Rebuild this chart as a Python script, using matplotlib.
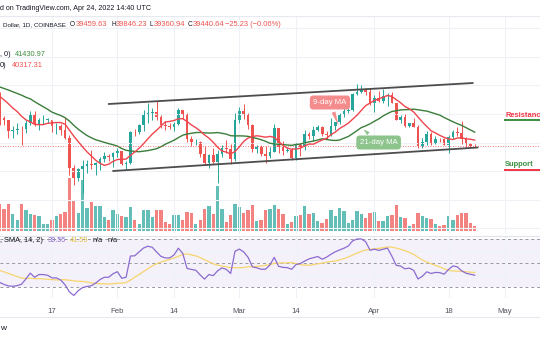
import numpy as np
import pandas as pd
import matplotlib
matplotlib.use('Agg')
import matplotlib.pyplot as plt
import matplotlib.dates as mdates
from matplotlib.lines import Line2D

plt.rcParams['font.family'] = ['Liberation Sans', 'DejaVu Sans']

# daily closes Dec 1 2021 .. Jan 4 2022 (warm-up for the moving averages)
prior_close = [57229, 56508, 53601, 49153, 49397, 50441, 50589, 50471, 47545, 47140,
               49390, 50053, 46702, 48343, 48864, 47632, 46131, 46834, 46681, 46914,
               48890, 48588, 50838, 50820, 50400, 50775, 50701, 47543, 46464, 47120,
               46214, 47738, 47311, 46446, 45833]
# RSI(14) Dec 23 2021 .. Jan 4 2022 (warm-up for the RSI average)
prior_rsi = [49, 49, 48, 49, 48.5, 42, 40, 41.5, 40, 44, 43, 41.5, 40.5]

first_day = '2022-01-05'

# BTC/USD daily candles, Jan 5 .. Apr 24 2022
opens = [45833, 43431, 43082, 41558, 41734, 41912, 41821, 42736, 43946, 42592,
         43099, 43177, 43190, 42250, 42375, 41744, 40680, 36457, 35030, 36276,
         36654, 36954, 36836, 37138, 37713, 38166, 37918, 38483, 38743, 36952,
         37154, 41500, 41441, 42412, 43841, 44118, 44338, 43565, 42407, 42244,
         42197, 42586, 44575, 43961, 40538, 40030, 40122, 38431, 37075, 38286,
         37296, 38332, 39214, 39105, 37709, 43193, 44354, 43925, 42458, 39137,
         39400, 38419, 38062, 38737, 41982, 39437, 38794, 38905, 37849, 39666,
         39339, 41143, 40951, 41801, 42191, 41247, 41077, 42358, 42892, 43960,
         44349, 44500, 46820, 47128, 47465, 47062, 45538, 46281, 45868, 46453,
         46622, 45555, 43206, 43503, 42287, 42782, 42207, 39521, 40127, 41166,
         39936, 40553, 40424, 39716, 40827, 41503, 41374, 40527, 39741, 39459.63]
highs = [47070, 43748, 43145, 42300, 42786, 42249, 43100, 44350, 44458, 43448,
         43800, 43478, 43190, 42680, 42575, 43505, 41100, 36836, 36499, 37550,
         37545, 38919, 37234, 38000, 38720, 38360, 38740, 39265, 38834, 37387,
         41550, 41914, 42655, 44500, 45500, 44800, 45821, 43920, 43000, 42760,
         42876, 44775, 44580, 44200, 40970, 40450, 40150, 39500, 38450, 39280,
         39000, 39700, 40300, 39850, 44200, 44950, 45400, 44100, 42530, 39700,
         39650, 39500, 39400, 42600, 42050, 40250, 39360, 39300, 39900, 39900,
         41700, 41480, 42350, 42400, 42300, 41550, 43370, 42900, 44200, 45100,
         44800, 46900, 48189, 48096, 47700, 47600, 46700, 47200, 47450, 46900,
         47100, 45555, 43900, 43950, 42800, 43400, 42420, 40700, 41550, 41500,
         40900, 40700, 40600, 41100, 41750, 42199, 42976, 40800, 39990, 39846.23]
lows = [42500, 42430, 40610, 40600, 41200, 39650, 41268, 42450, 42311, 41733,
        42578, 42690, 41540, 41250, 41100, 40550, 35440, 34008, 34600, 32933,
        35700, 36234, 35507, 36155, 37300, 37351, 36632, 38000, 36832, 36250,
        37055, 40850, 41150, 41650, 42666, 43150, 43200, 42000, 41760, 41880,
        41570, 42450, 43350, 40100, 39450, 39630, 38000, 36800, 36400, 37050,
        34322, 38000, 38600, 37000, 37450, 42800, 43350, 41850, 38650, 38600,
        38100, 37155, 37850, 38650, 38550, 38220, 38650, 37580, 37590, 38120,
        38900, 40500, 40200, 41550, 40950, 40500, 40900, 41800, 42600, 43600,
        44100, 44400, 46650, 46950, 46600, 45200, 44250, 45700, 45550, 45150,
        45500, 43150, 42750, 42150, 42130, 42150, 39200, 39260, 39600, 39600,
        39800, 40050, 39600, 38536, 40550, 40850, 39760, 39200, 39300, 39360.94]
closes = [43431, 43082, 41558, 41734, 41912, 41821, 42736, 43946, 42592, 43099,
          43177, 43190, 42250, 42375, 41744, 40680, 36457, 35030, 36276, 36654,
          36954, 36836, 37138, 37713, 38166, 37918, 38483, 38743, 36952, 37154,
          41500, 41441, 42412, 43841, 44118, 44338, 43565, 42407, 42244, 42197,
          42586, 44575, 43961, 40538, 40030, 40122, 38431, 37075, 38286, 37296,
          38332, 39214, 39105, 37709, 43193, 44354, 43925, 42458, 39137, 39400,
          38419, 38062, 38737, 41982, 39437, 38794, 38905, 37849, 39666, 39339,
          41143, 40951, 41801, 42191, 41247, 41077, 42358, 42892, 43960, 44349,
          44500, 46820, 47128, 47465, 47062, 45538, 46281, 45868, 46453, 46622,
          45555, 43206, 43503, 42287, 42782, 42207, 39521, 40127, 41166, 39936,
          40553, 40424, 39716, 40827, 41503, 41374, 40527, 39741, 39465.87, 39440.64]
# thousand BTC
volume = [26.7, 21.7, 27.3, 16.7, 11.3, 26.7, 20.7, 17.3, 16.3, 14.7,
          6.7, 6.7, 11.3, 14.7, 16.7, 19.0, 52.7, 31.3, 18.3, 50.7,
          23.3, 29.0, 24.7, 24.7, 14.0, 11.3, 20.7, 17.3, 14.7, 14.0,
          24.0, 11.3, 6.7, 21.3, 21.3, 14.0, 21.3, 20.7, 9.0, 7.3,
          15.7, 15.7, 10.7, 19.0, 18.0, 7.3, 11.3, 21.7, 24.7, 16.7,
          45.0, 21.7, 9.0, 15.7, 27.3, 24.0, 18.0, 20.7, 25.7, 9.7,
          11.3, 21.3, 22.0, 26.3, 21.7, 17.3, 6.7, 9.0, 14.7, 15.7,
          24.7, 16.7, 18.3, 9.7, 8.0, 11.7, 21.3, 14.7, 23.3, 20.0,
          8.3, 11.3, 20.0, 16.7, 13.3, 18.3, 19.0, 9.7, 9.7, 15.0,
          15.7, 25.7, 14.0, 13.0, 5.0, 6.7, 18.3, 14.7, 13.0, 11.7,
          7.3, 5.0, 5.7, 14.7, 11.3, 15.7, 18.3, 18.0, 8.0, 4.7]
# RSI(14), Jan 5 .. Apr 24
rsi = [33.5, 31.8, 30.6, 30.3, 30.8, 32.0, 36.4, 41.3, 37.8, 40.1,
       40.1, 39.5, 37.3, 37.3, 35.5, 31.5, 25.6, 22.6, 26.6, 29.2,
       30.1, 30.7, 32.9, 35.9, 37.8, 37.8, 40.8, 42.5, 37.0, 37.8,
       55.6, 55.8, 59.1, 62.3, 63.8, 62.9, 59.0, 55.3, 54.0, 54.0,
       56.5, 62.1, 57.8, 45.2, 44.4, 43.7, 39.8, 36.3, 40.1, 39.2,
       43.2, 45.7, 44.4, 41.0, 59.6, 61.4, 59.0, 54.5, 46.5, 45.7,
       44.5, 44.6, 48.0, 54.5, 47.0, 46.1, 45.9, 44.5, 48.5, 49.3,
       51.4, 53.2, 54.2, 55.2, 52.9, 54.6, 57.0, 59.1, 60.7, 62.1,
       64.0, 68.3, 69.8, 69.9, 67.5, 60.4, 61.3, 60.3, 61.3, 62.2,
       55.5, 47.8, 47.2, 44.9, 45.5, 43.6, 36.4, 38.7, 42.4, 41.0,
       41.9, 41.7, 40.4, 44.3, 47.3, 46.6, 43.3, 41.2, 40.4, 39.55]

tick_dates = ['2022-01-17', '2022-02-01', '2022-02-14', '2022-03-01',
              '2022-03-14', '2022-04-01', '2022-04-18', '2022-05-01']
tick_labels = ['17', 'Feb', '14', 'Mar', '14', 'Apr', '18', 'May']

# ascending channel drawn on the chart
upper_dates = ['2022-01-30 00:00', '2022-04-23 14:00']
upper_price = [45390, 48330]
lower_dates = ['2022-01-31 00:00', '2022-04-24 17:00']
lower_price = [36010, 39300]
resistance_level = 43100
support_level = 36200

GREEN = '#26a69a'
RED = '#ef5350'
GRID = '#eef1f6'
INK = '#131722'

W, H = 540, 340


def dnum(s):
    return mdates.date2num(pd.to_datetime(s, format='mixed'))


# ---- indicators
n0 = len(prior_close)
all_dates = pd.date_range(end=pd.Timestamp(first_day) + pd.Timedelta(days=len(closes) - 1),
                          periods=n0 + len(closes), freq='D')
xa = mdates.date2num(all_dates)
cl = pd.Series(prior_close + closes, dtype=float)
ma9 = cl.rolling(9).mean().values
ma21 = cl.rolling(21).mean().values

rsi_all = np.array(prior_rsi + rsi, float)
rsi_x = xa[-len(rsi_all):]
rsi_ma = pd.Series(rsi_all).rolling(14).mean().values

x = xa[n0:]
o = np.array(opens, float)
c = np.array(closes, float)
hi = np.array(highs, float)
lo = np.array(lows, float)
col = np.where(c >= o, GREEN, RED)

# ---- figure and panes (pixel layout)
fig = plt.figure(figsize=(W / 100, H / 100), dpi=100)


def pane(top, bottom):
    return [0, 1 - bottom / H, 1, (bottom - top) / H]


ax = fig.add_axes(pane(16, 234))
axv = ax.twinx()
axr = fig.add_axes(pane(237, 298), sharex=ax)
ax.set_zorder(axv.get_zorder() + 1)
ax.patch.set_visible(False)

t0 = dnum('2022-01-01')
ax.set_xlim(t0 + 4.06, t0 + 128.0)
ax.set_ylim(27190, 57710)
axv.set_ylim(-3, 215)
axr.set_ylim(20.5, 71.5)

for a in (ax, axv, axr):
    for s in a.spines.values():
        s.set_visible(False)
    a.tick_params(length=0, labelleft=False, labelright=False, labelbottom=False)

ax.set_xticks(dnum(tick_dates))
ax.set_yticks(np.arange(28000, 57000, 4000))
ax.grid(color=GRID, lw=0.8)
axv.grid(False)
axv.set_yticks([])
axr.set_yticks([20.5, 40, 60])
axr.grid(color=GRID, lw=0.8)
axr.tick_params(axis='x', labelbottom=True, labelsize=5.6, labelcolor='#50535e', pad=7.5)
axr.set_xticklabels(tick_labels)

# volume
axv.bar(x, volume, width=0.76, color=col, alpha=0.72, lw=0)

# candles
ax.vlines(x, lo, hi, colors=col, lw=0.7)
body = np.maximum(np.abs(c - o), 60)
ax.bar(x, body, bottom=np.minimum(o, c), width=0.62, color=col, lw=0)

# moving averages
ax.plot(xa, ma21, color='#3b7d3a', lw=1.0)
ax.plot(xa, ma9, color='#f0454e', lw=1.0)

# last price
ax.axhline(c[-1], color=RED, lw=0.6, ls=(0, (1, 2)))

# channel
ax.plot(dnum(upper_dates), upper_price, color='#4d4d4d', lw=1.3, solid_capstyle='round')
ax.plot(dnum(lower_dates), lower_price, color='#4d4d4d', lw=1.3, solid_capstyle='round')

# resistance / support markers
xr = dnum('2022-04-30 20:00')
ax.hlines(resistance_level, xr, ax.get_xlim()[1], color='#3b8e3f', lw=1.4)
ax.hlines(support_level, xr, ax.get_xlim()[1], color='#f23645', lw=1.4)
ax.text(xr + 0.2, resistance_level + 250, 'Resistance', color='#f23645', fontsize=5.4,
        fontweight='bold', va='bottom', ha='left')
ax.text(xr + 0.2, support_level + 250, 'Support', color='#3b8e3f', fontsize=5.4,
        fontweight='bold', va='bottom', ha='left')

# callouts
i9 = n0 + int(round(dnum('2022-03-24') - x[0]))
ax.annotate('9-day MA', xy=(xa[i9], ma9[i9]),
            xytext=(dnum('2022-03-21 19:00'), 45600),
            color='white', fontsize=5.6, ha='center', va='center',
            bbox=dict(boxstyle='round,pad=0.45', fc='#f48b8c', ec='none'),
            arrowprops=dict(arrowstyle='wedge,tail_width=0.5,shrink_factor=0.5',
                            fc='#f48b8c', ec='none'))
i21 = i9 + 5
ax.annotate('21-day MA', xy=(xa[i21], ma21[i21]),
            xytext=(dnum('2022-04-01 23:00'), 40000),
            color='white', fontsize=5.6, ha='center', va='center',
            bbox=dict(boxstyle='round,pad=0.45', fc='#8cc48c', ec='none'),
            arrowprops=dict(arrowstyle='wedge,tail_width=0.5,shrink_factor=0.5',
                            fc='#8cc48c', ec='none'))

# RSI pane
axr.axhspan(30, 70, color='#7e57c2', alpha=0.08, lw=0)
for lvl in (70, 50, 30):
    axr.axhline(lvl, color='#9598a1', lw=0.7, ls=(0, (3, 3)), zorder=3)
axr.plot(rsi_x, rsi_ma, color='#f7d56e', lw=0.9, zorder=4)
axr.plot(rsi_x, rsi_all, color='#8c6bd0', lw=0.9, zorder=5)

# separators
for yp, cl_ in ((16, '#e6e9ef'), (235.5, '#e0e3eb'), (317, '#e6e9ef')):
    fig.add_artist(Line2D([0, 1], [1 - yp / H] * 2, color=cl_, lw=0.8))

# ---- header / legend text
renderer = fig.canvas.get_renderer()


def run(xp, yp, pieces, size=5.3, gap=0.0):
    """Write coloured text pieces one after another starting at pixel xp."""
    for s, color in pieces:
        t = fig.text(xp / W, 1 - yp / H, s, color=color, fontsize=size, va='center', ha='left')
        xp = t.get_window_extent(renderer).x1 + gap
    return xp


run(0, 8.5, [('d on TradingView.com, Apr 24, 2022 14:40 UTC', INK)], 5.1)

chg_last = c[-1] - c[-2]
run(3, 25, [('Dollar, 1D, COINBASE', INK)], 4.5)
for xp, k, v in ((70, 'O', o[-1]), (111, 'H', hi[-1]), (150, 'L', lo[-1]), (188, 'C', c[-1])):
    xq = run(xp, 25, [(k, INK)], 4.7)
    run(xq + 0.3, 25, [(f'{v:.2f}', RED)], 5.4)
run(225, 25, [(f'\u2212{abs(chg_last):.2f} (\u2212{abs(chg_last) / c[-2] * 100:.2f}%)', RED)], 5.4)

run(0, 55, [(', 0)', INK)], 5.3)
run(15, 55, [('41430.97', '#3b8e3f')], 5.3)
run(0, 65.5, [('0)', INK)], 5.3)
run(12, 65.5, [('40317.31', RED)], 5.3)

run(0, 240.5, [(', SMA, 14, 2)', INK), ('39.55', '#8c6bd0'), ('41.59', '#e6c040'),
               ('n/a', INK), ('n/a', INK)], 5.3, gap=4.5)

run(0, 329, [('w', INK)], 6)

fig.savefig('out.png', dpi=100, facecolor='white')
